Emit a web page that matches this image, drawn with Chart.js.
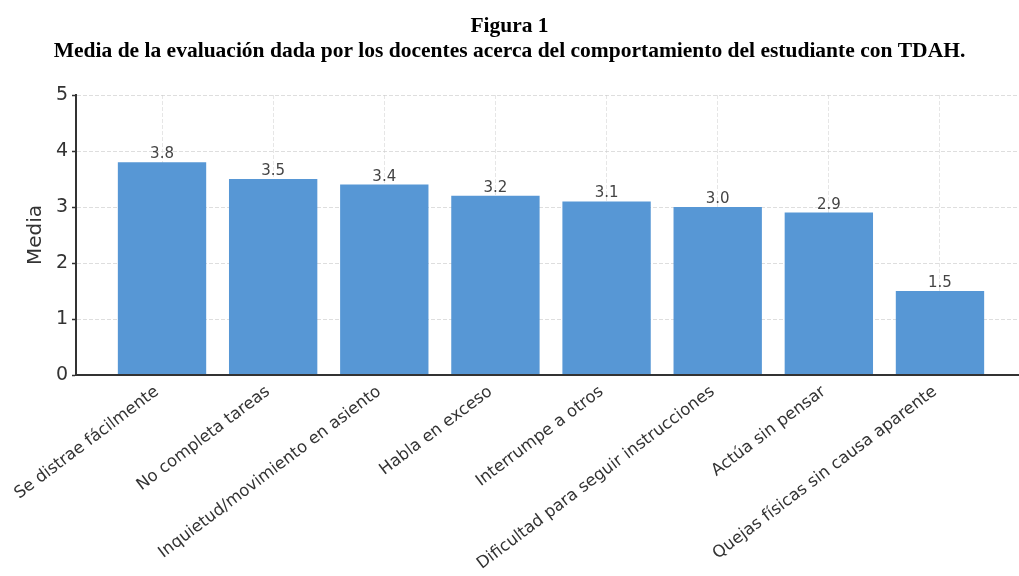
<!DOCTYPE html>
<html>
<head>
<meta charset="utf-8">
<script src="https://cdn.jsdelivr.net/npm/chart.js@4"></script>
<style>
html,body{margin:0;padding:0;background:#fff;overflow:hidden}
#wrap{width:1019px;height:576px;position:relative}
</style>
</head>
<body>
<div id="wrap"><canvas id="c" width="1019" height="576"></canvas></div>
<script>
const titleLines = ['Figura 1', 'Media de la evaluación dada por los docentes acerca del comportamiento del estudiante con TDAH.'];
const yAxisTitle = 'Media';
const categories = [
  'Se distrae fácilmente',
  'No completa tareas',
  'Inquietud/movimiento en asiento',
  'Habla en exceso',
  'Interrumpe a otros',
  'Dificultad para seguir instrucciones',
  'Actúa sin pensar',
  'Quejas físicas sin causa aparente'
];
const values = [3.8, 3.5, 3.4, 3.2, 3.1, 3.0, 2.9, 1.5];
const yMin = 0, yMax = 5, yStep = 1;
const xMin = -0.774, xMax = 7.711;

const valueLabels = {
  id: 'valueLabels',
  afterDatasetsDraw(chart) {
    const ctx = chart.ctx;
    const meta = chart.getDatasetMeta(0);
    ctx.save();
    ctx.font = '15px "DejaVu Sans"';
    ctx.fillStyle = '#444';
    ctx.textAlign = 'center';
    ctx.textBaseline = 'alphabetic';
    meta.data.forEach((bar, i) => {
      ctx.fillText(values[i].toFixed(1), bar.x, bar.y - 4);
    });
    ctx.restore();
  }
};

const gridColorY = 'rgba(200,200,200,0.6)';
const gridColorX = 'rgba(205,205,205,0.5)';

new Chart(document.getElementById('c'), {
  type: 'bar',
  data: {
    datasets: [{
      data: values.map((v, i) => ({x: i, y: v})),
      backgroundColor: '#5797d5',
      borderWidth: 0,
      categoryPercentage: 1,
      barPercentage: 0.795
    }]
  },
  options: {
    responsive: false,
    devicePixelRatio: 1,
    animation: false,
    layout: {autoPadding: false, padding: 0},
    plugins: {
      legend: {display: false},
      tooltip: {enabled: false},
      title: {
        display: true,
        text: titleLines,
        color: '#000',
        font: {family: '"Liberation Serif"', weight: 'bold', size: 21.5, lineHeight: '25px'},
        padding: {top: 14, bottom: 31}
      }
    },
    scales: {
      x: {
        type: 'linear',
        min: xMin,
        max: xMax,
        offset: false,
        z: 1,
        grid: {offset: false, color: gridColorX, lineWidth: 1, tickLength: -5, tickColor: '#333', tickWidth: 1.5, tickBorderDash: []},
        border: {display: true, color: '#333', width: 2, dash: [4, 2], z: 1},
        ticks: {
          stepSize: 1,
          includeBounds: false,
          autoSkip: false,
          minRotation: 37,
          maxRotation: 37,
          padding: 12,
          labelOffset: -5,
          color: '#333',
          font: {family: '"DejaVu Sans"', size: 16.5},
          callback: (v) => Number.isInteger(v) && categories[v] !== undefined ? categories[v] : ''
        },
        afterFit: (s) => { s.height = 201; s.paddingLeft = 0; s.paddingRight = 0; }
      },
      y: {
        min: yMin,
        max: yMax,
        z: 0,
        grid: {color: gridColorY, lineWidth: 1, tickLength: 4, tickColor: '#333', tickWidth: 1.5, tickBorderDash: []},
        border: {display: true, color: '#333', width: 2, dash: [4, 2], z: 1},
        ticks: {
          stepSize: yStep,
          padding: 4,
          color: '#333',
          font: {family: '"DejaVu Sans"', size: 19}
        },
        title: {
          display: true,
          text: yAxisTitle,
          color: '#333',
          font: {family: '"DejaVu Sans"', size: 20},
          padding: {top: 24, bottom: 0}
        },
        afterFit: (s) => { s.width = 76; s.paddingTop = 0; s.paddingBottom = 0; }
      }
    }
  },
  plugins: [valueLabels]
});
</script>
</body>
</html>
